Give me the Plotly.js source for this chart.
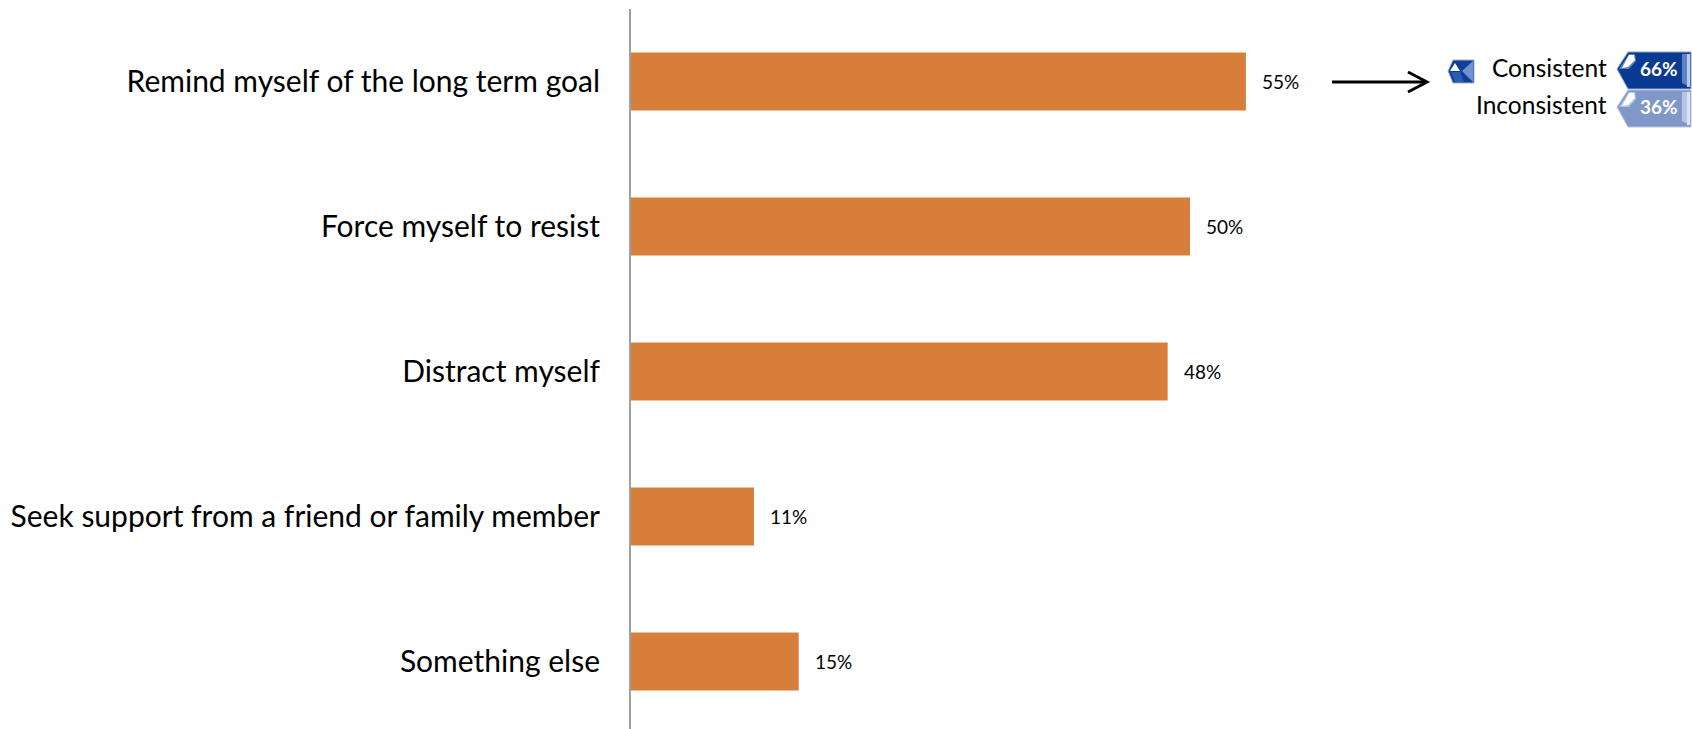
<!DOCTYPE html>
<html>
<head>
<meta charset="utf-8">
<script src="https://cdn.plot.ly/plotly-3.0.1.min.js"></script>
<style>html,body{margin:0;padding:0;background:#fff;overflow:hidden}</style>
</head>
<body>
<div id="chart" style="width:1692px;height:729px"></div>
<script>
const categories = [
  "Remind myself of the long term goal",
  "Force myself to resist",
  "Distract myself",
  "Seek support from a friend or family member",
  "Something else"
];
const shares = [55, 50, 48, 11, 15];
const legendNames = ["Consistent", "Inconsistent"];
const legendShares = [66, 36];

const W = 1692, H = 729;
const m = {l: 631, r: 0, t: 9, b: 0};
const fx = p => (p - m.l) / (W - m.l - m.r);
const fy = p => 1 - (p - m.t) / (H - m.t - m.b);

// Polygon in page pixels, expressed as a paper-referenced shape path.
function poly(points, fill, line) {
  const d = points.map((q, i) => (i ? "L" : "M") + fx(q[0]).toFixed(5) + "," + fy(q[1]).toFixed(5)).join(" ") + " Z";
  return {type: "path", xref: "paper", yref: "paper", path: d, fillcolor: fill,
          line: {color: line || fill, width: line ? 1 : 0}, layer: "above"};
}

// Bevelled chevron badge: body, right edge, top-left highlight, lower-left bevel.
function badge(top, bottom, body, edge, glow, border) {
  const mid = top + 17, l = 1617, n = 1628, r = 1691;
  return [
    poly([[n, top], [r, top], [r, bottom], [n, bottom], [l, mid]], body, border),
    poly([[r - 9, top + 2], [r - 1, top + 2], [r - 1, bottom - 2], [r - 9, bottom - 6], [r - 9, top + 6]], edge),
    poly([[r - 4, top + 2], [r - 1, top + 2], [r - 1, bottom - 2], [r - 4, bottom - 2]], glow),
    poly([[l + 2, mid], [n + 1, top + 2], [n + 7, top + 2], [n + 8, top + 9], [n + 1, mid]], edge),
    poly([[l + 5, mid - 1], [n + 1, top + 3], [n + 6, top + 3], [n + 7, top + 8], [n, mid - 2]], "#ffffff")
  ];
}

const shapes = [
  ...badge(52, 89, "#0b3a93", "#5f82c4", "#bccbe8", "#8fa6d4"),
  ...badge(90, 127, "#8098c8", "#b5c5e4", "#dbe3f3", "#b4c3e2"),
  // small chevron key next to the arrow
  poly([[1448, 71], [1453, 60], [1474, 60], [1474, 83], [1453, 83]], "#0f3f98", "#9db2dc"),
  poly([[1450, 71], [1455, 63], [1460, 71]], "#ffffff"),
  poly([[1451, 72], [1460, 72], [1464, 82], [1455, 82]], "#2a5cb0"),
  poly([[1462, 71], [1473, 61], [1473, 82]], "#6f93cf"),
  // arrow
  {type: "line", xref: "paper", yref: "paper", x0: fx(1332), x1: fx(1426), y0: fy(82), y1: fy(82),
   line: {color: "#000", width: 3}, layer: "above"},
  {type: "path", xref: "paper", yref: "paper", layer: "above",
   path: `M${fx(1408)},${fy(72)} L${fx(1427)},${fy(82)} L${fx(1408)},${fy(92)}`,
   line: {color: "#000", width: 3}}
];

const barLabels = categories.map((c, i) => ({
  x: shares[i], y: c, xref: "x", yref: "y", text: shares[i] + "%", showarrow: false,
  xanchor: "left", yanchor: "middle", xshift: 14, font: {family: "Lato, sans-serif", size: 19, color: "#000"}
}));

const legendText = legendNames.flatMap((n, i) => {
  const yc = fy(67 + i * 38);
  return [
    {xref: "paper", yref: "paper", x: fx(1609), y: yc, text: n, showarrow: false, xanchor: "right", yanchor: "middle",
     font: {family: "Lato, sans-serif", size: 24.5, color: "#000"}},
    {xref: "paper", yref: "paper", x: fx(1680), y: fy(68 + i * 39), text: "<b>" + legendShares[i] + "%</b>", showarrow: false,
     xanchor: "right", yanchor: "middle", font: {family: "Lato, sans-serif", size: 19, color: "#fff"}}
  ];
});

Plotly.newPlot("chart", [{
  type: "bar", orientation: "h", x: shares, y: categories, width: 0.4,
  marker: {color: "#d77e3b"}, hoverinfo: "skip"
}], {
  width: W, height: H, margin: m, showlegend: false,
  paper_bgcolor: "#fff", plot_bgcolor: "#fff",
  xaxis: {range: [0, (W - m.l) / 11.18], visible: false, fixedrange: true},
  yaxis: {
    type: "category", categoryorder: "array", categoryarray: categories,
    range: [4.466, -0.5], showgrid: false, zeroline: false, showline: true,
    linecolor: "#a0a0a0", linewidth: 2, ticks: "", ticklabelstandoff: 23,
    tickfont: {family: "Lato, sans-serif", size: 30, color: "#000"}, automargin: false, fixedrange: true
  },
  shapes, annotations: [...barLabels, ...legendText]
}, {displayModeBar: false, staticPlot: true});
</script>
</body>
</html>
